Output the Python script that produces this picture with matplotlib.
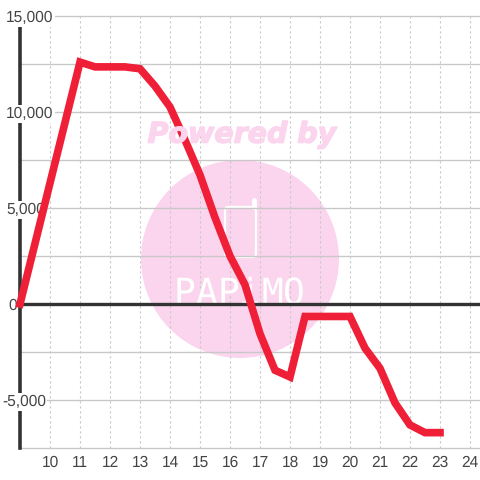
import matplotlib
matplotlib.use("Agg")
import matplotlib.pyplot as plt
import matplotlib.patheffects as pe
from matplotlib.patches import Circle, FancyBboxPatch
from matplotlib.lines import Line2D
from matplotlib.transforms import IdentityTransform, blended_transform_factory

plt.rcParams["font.family"] = ["Liberation Sans", "DejaVu Sans"]
plt.rcParams["text.hinting"] = "none"

hours = [9, 10, 11, 11.5, 12, 12.5, 13, 13.5, 14, 14.5, 15, 15.5, 16, 16.5, 17, 17.5,
         18, 18.5, 19, 19.5, 20, 20.5, 21, 21.5, 22, 22.5, 23]
values = [0, 6300, 12600, 12350, 12350, 12350, 12250, 11350, 10260, 8540, 6720, 4500, 2500,
          1000, -1550, -3450, -3800, -650, -650, -650, -650, -2300, -3350, -5150, -6300, -6700, -6700]
x_ticks = list(range(10, 25))
y_grid = [-7500, -5000, -2500, 0, 2500, 5000, 7500, 10000, 12500, 15000]
y_labels = {15000: "15,000", 10000: "10,000", 5000: "5,000", 0: "0", -5000: "-5,000"}
y_label_left = {15000: 6, 10000: 6, 5000: 6, 0: 8, -5000: 2}
logo_letters = [("P", 184), ("A", 206), ("P", 228), ("i", 250), ("M", 272), ("O", 294)]

TEXT = "#444444"
GRID = "#c8c8c8"
DARK = "#333333"
RED = "#f01f38"
PINK = "#fbd5ee"

fig = plt.figure(figsize=(4.8, 4.8), dpi=100)
ax = fig.add_axes([20 / 480, 32 / 480, 460 / 480, 432 / 480])
ax.set_xlim(9, 9 + 460 / 30)
ax.set_ylim(-7500, 15000)

for s in ax.spines.values():
    s.set_visible(False)
ax.spines["left"].set_visible(True)
ax.spines["left"].set_linewidth(2.6)
ax.spines["left"].set_color(DARK)
ax.spines["left"].set_zorder(2)

ax.set_xticks(x_ticks)
ax.set_yticks([])
ax.tick_params(axis="x", length=0, pad=5, labelsize=11.2, labelcolor=TEXT)
ax.grid(axis="x", color=GRID, linewidth=0.8, linestyle=(0, (2, 2.5)), zorder=1)
ax.set_axisbelow(True)
for v in y_grid:
    ax.axhline(v, color=GRID, linewidth=1.0, zorder=1, clip_on=False)
ax.axhline(0, color=DARK, linewidth=2.4, zorder=3)

# watermark, positioned in pixels
px = IdentityTransform()
ax.add_patch(Circle((240, 480 - 259), 99, transform=px, facecolor=PINK, edgecolor="none", zorder=0.5))
ax.add_patch(FancyBboxPatch((225, 480 - 257), 31, 50, boxstyle="round,pad=0,rounding_size=3", transform=px,
                            facecolor="none", edgecolor="white", linewidth=1.6, zorder=0.6))
ax.add_line(Line2D([253.5, 253.5], [480 - 207, 480 - 200], transform=px, color="white", linewidth=3.5,
                   solid_capstyle="round", zorder=0.6))
fig.text(242 / 480, 1 - 135 / 480, "Powered by", color=PINK, fontsize=20.5, family="DejaVu Sans",
         fontweight="bold", style="italic", ha="center", va="center", zorder=0.5,
         path_effects=[pe.withStroke(linewidth=1, foreground=PINK)])
for letter, xp in logo_letters:
    ax.text(xp, 480 - 304, letter, transform=px, color="white", fontsize=26, family="DejaVu Sans Mono",
            ha="center", va="baseline", zorder=0.7)

# data line
ax.plot(hours, values, color=RED, linewidth=5.5, solid_joinstyle="miter", solid_capstyle="projecting",
        zorder=4, clip_on=False)

# y labels sit on white boxes that mask the axis and gridlines
trans = blended_transform_factory(IdentityTransform(), ax.transData)
for v, label in y_labels.items():
    ax.text(y_label_left[v], v, label, transform=trans, color=TEXT, fontsize=11.2, ha="left", va="center_baseline",
            bbox=dict(facecolor="white", edgecolor="none", pad=1.0), zorder=3.5, clip_on=False)

fig.savefig("out.png", dpi=100)
plt.close(fig)
